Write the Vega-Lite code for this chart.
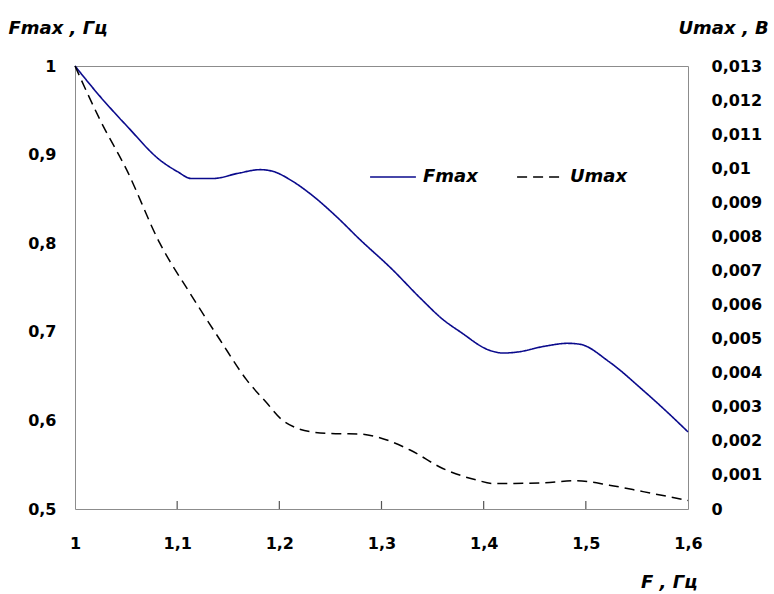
{
  "$schema": "https://vega.github.io/schema/vega-lite/v6.json",
  "width": 613,
  "height": 443,
  "autosize": {"type": "none"},
  "padding": {"left": 75, "top": 66, "right": 86, "bottom": 85},
  "background": "white",
  "config": {
    "view": {"stroke": "#8c8c8c", "strokeWidth": 1},
    "font": "DejaVu Sans",
    "axis": {
      "grid": false,
      "ticks": false,
      "domain": false,
      "zindex": 1,
      "labelFlush": false,
      "labelFont": "DejaVu Sans",
      "labelFontWeight": "bold",
      "labelFontSize": 16,
      "labelColor": "black",
      "titleFont": "DejaVu Sans",
      "titleFontSize": 18,
      "titleFontWeight": "bold",
      "titleFontStyle": "italic",
      "titleColor": "black",
      "titleAngle": 0,
      "titleBaseline": "alphabetic"
    },
    "legend": {
      "labelFont": "DejaVu Sans",
      "labelFontSize": 18,
      "labelFontWeight": "bold",
      "labelFontStyle": "italic",
      "labelColor": "black"
    }
  },
  "datasets": {
    "fmax": [
      {"F": 1.000, "value": 1.000},
      {"F": 1.025, "value": 0.965},
      {"F": 1.051, "value": 0.932},
      {"F": 1.083, "value": 0.894},
      {"F": 1.100, "value": 0.881},
      {"F": 1.114, "value": 0.873},
      {"F": 1.135, "value": 0.873},
      {"F": 1.160, "value": 0.879},
      {"F": 1.181, "value": 0.883},
      {"F": 1.194, "value": 0.881},
      {"F": 1.210, "value": 0.872},
      {"F": 1.230, "value": 0.856},
      {"F": 1.255, "value": 0.831},
      {"F": 1.279, "value": 0.804},
      {"F": 1.310, "value": 0.771},
      {"F": 1.338, "value": 0.738},
      {"F": 1.360, "value": 0.714},
      {"F": 1.377, "value": 0.700},
      {"F": 1.406, "value": 0.679},
      {"F": 1.419, "value": 0.676},
      {"F": 1.432, "value": 0.677},
      {"F": 1.461, "value": 0.684},
      {"F": 1.482, "value": 0.687},
      {"F": 1.494, "value": 0.686},
      {"F": 1.523, "value": 0.666},
      {"F": 1.556, "value": 0.634},
      {"F": 1.580, "value": 0.609},
      {"F": 1.600, "value": 0.587}
    ],
    "umax": [
      {"F": 1.000, "value": 0.01300},
      {"F": 1.0245, "value": 0.01142},
      {"F": 1.0506, "value": 0.00995},
      {"F": 1.083, "value": 0.00780},
      {"F": 1.1126, "value": 0.00633},
      {"F": 1.142, "value": 0.00496},
      {"F": 1.168, "value": 0.00379},
      {"F": 1.188, "value": 0.00310},
      {"F": 1.201, "value": 0.00266},
      {"F": 1.215, "value": 0.00240},
      {"F": 1.230, "value": 0.00227},
      {"F": 1.255, "value": 0.00221},
      {"F": 1.279, "value": 0.00220},
      {"F": 1.295, "value": 0.00212},
      {"F": 1.328, "value": 0.00173},
      {"F": 1.360, "value": 0.00119},
      {"F": 1.393, "value": 0.00085},
      {"F": 1.409, "value": 0.00075},
      {"F": 1.430, "value": 0.00075},
      {"F": 1.458, "value": 0.00077},
      {"F": 1.491, "value": 0.00083},
      {"F": 1.523, "value": 0.00070},
      {"F": 1.556, "value": 0.00051},
      {"F": 1.600, "value": 0.00025}
    ],
    "leftTicks": [{"v": 0.6}, {"v": 0.7}, {"v": 0.8}, {"v": 0.9}],
    "rightTicks": [
      {"v": 0.001}, {"v": 0.002}, {"v": 0.003}, {"v": 0.004}, {"v": 0.005}, {"v": 0.006},
      {"v": 0.007}, {"v": 0.008}, {"v": 0.009}, {"v": 0.010}, {"v": 0.011}, {"v": 0.012}
    ],
    "bottomTicks": [{"F": 1.1}, {"F": 1.2}, {"F": 1.3}, {"F": 1.4}, {"F": 1.5}]
  },
  "encoding": {
    "x": {
      "field": "F",
      "type": "quantitative",
      "scale": {"domain": [1, 1.6], "nice": false, "zero": false},
      "axis": {
        "values": [1, 1.1, 1.2, 1.3, 1.4, 1.5, 1.6],
        "labelExpr": "replace(format(datum.value, '~g'), '.', ',')",
        "labelPadding": 26,
        "title": "F , Гц",
        "titleAlign": "right",
        "titleX": 622,
        "titleY": 78
      }
    }
  },
  "layer": [
    {
      "data": {"name": "fmax"},
      "mark": {"type": "line", "interpolate": "monotone", "strokeWidth": 1.6},
      "encoding": {
        "y": {
          "field": "value",
          "type": "quantitative",
          "scale": {"domain": [0.5, 1], "nice": false, "zero": false},
          "axis": {
            "orient": "left",
            "values": [0.5, 0.6, 0.7, 0.8, 0.9, 1],
            "labelExpr": "replace(format(datum.value, '~g'), '.', ',')",
            "labelPadding": 19,
            "title": "Fmax , Гц",
            "titleAlign": "left",
            "titleX": -67,
            "titleY": -33
          }
        },
        "color": {
          "datum": "Fmax",
          "scale": {"domain": ["Fmax", "Umax"], "range": ["#0a0a8c", "black"]},
          "legend": {
            "title": null,
            "orient": "none",
            "direction": "horizontal",
            "legendX": 294,
            "legendY": 87,
            "padding": 0,
            "symbolType": "stroke",
            "symbolSize": 2100,
            "symbolStrokeWidth": 1.6,
            "labelOffset": 6,
            "columnPadding": 35
          }
        },
        "strokeDash": {
          "datum": "Fmax",
          "scale": {"domain": ["Fmax", "Umax"], "range": [[1, 0], [10, 6]]},
          "legend": {
            "title": null,
            "orient": "none",
            "direction": "horizontal",
            "legendX": 294,
            "legendY": 87,
            "padding": 0,
            "symbolType": "stroke",
            "symbolSize": 2100,
            "symbolStrokeWidth": 1.6,
            "labelOffset": 6,
            "columnPadding": 35
          }
        }
      }
    },
    {
      "data": {"name": "umax"},
      "mark": {"type": "line", "interpolate": "monotone", "strokeWidth": 1.5},
      "encoding": {
        "y": {
          "field": "value",
          "type": "quantitative",
          "scale": {"domain": [0, 0.013], "nice": false, "zero": false},
          "axis": {
            "orient": "right",
            "values": [0, 0.001, 0.002, 0.003, 0.004, 0.005, 0.006, 0.007, 0.008, 0.009, 0.01, 0.011, 0.012, 0.013],
            "labelExpr": "replace(format(datum.value, '~g'), '.', ',')",
            "labelPadding": 23,
            "title": "Umax , В",
            "titleAlign": "left",
            "titleX": -10,
            "titleY": -33
          }
        },
        "color": {"datum": "Umax"},
        "strokeDash": {"datum": "Umax"}
      }
    },
    {
      "data": {"name": "leftTicks"},
      "mark": {"type": "rule", "color": "#555555", "strokeWidth": 1.2},
      "encoding": {
        "x": {"datum": 1},
        "x2": {"datum": 1.0115},
        "y": {"field": "v", "type": "quantitative", "scale": {"domain": [0.5, 1], "nice": false, "zero": false}, "axis": null}
      }
    },
    {
      "data": {"name": "rightTicks"},
      "mark": {"type": "rule", "color": "#555555", "strokeWidth": 1.2},
      "encoding": {
        "x": {"datum": 1.5885},
        "x2": {"datum": 1.6},
        "y": {"field": "v", "type": "quantitative", "scale": {"domain": [0, 0.013], "nice": false, "zero": false}, "axis": null}
      }
    },
    {
      "data": {"name": "bottomTicks"},
      "mark": {"type": "rule", "color": "#555555", "strokeWidth": 1.2},
      "encoding": {
        "x": {"field": "F", "type": "quantitative"},
        "y": {"datum": 0, "scale": {"domain": [0, 1], "nice": false, "zero": false}, "axis": null},
        "y2": {"datum": 0.018}
      }
    },
    {
      "data": {"values": [{"edge": "left"}]},
      "mark": {"type": "rule", "color": "black", "strokeWidth": 1.2},
      "encoding": {
        "x": {"datum": 1}
      }
    },
    {
      "data": {"values": [{"edge": "bottom"}]},
      "mark": {"type": "rule", "color": "black", "strokeWidth": 1.2},
      "encoding": {
        "y": {"datum": 0, "scale": {"domain": [0, 1], "nice": false}, "axis": null}
      }
    }
  ],
  "resolve": {"scale": {"y": "independent"}}
}
